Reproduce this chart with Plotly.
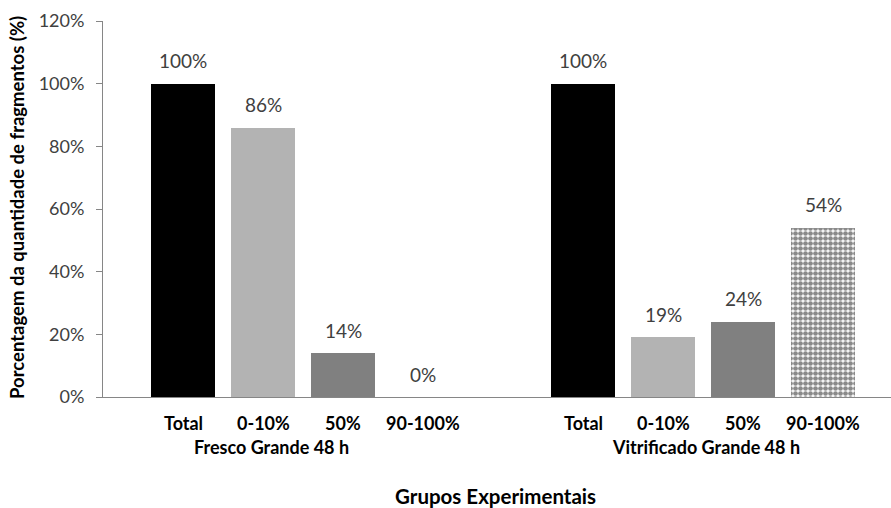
import plotly.graph_objects as go

# Data
groups = ["Fresco Grande 48 h", "Vitrificado Grande 48 h"]
categories = ["Total", "0-10%", "50%", "90-100%"]
values_fresco = [1.00, 0.86, 0.14, 0.00]
values_vitrificado = [1.00, 0.19, 0.24, 0.54]
y_ticks = [0, 0.2, 0.4, 0.6, 0.8, 1.0, 1.2]

series = [values_fresco, values_vitrificado]

# Styling per category
bar_colors = ["#000000", "#b3b3b3", "#808080", "#ffffff"]
FONT = "Lato, Carlito, Calibri, sans-serif"
LABEL_COLOR = "#404040"
AXIS_COLOR = "#868686"
GROUP_STEP = len(categories) + 1  # one empty slot between groups

# plot-area geometry in pixels (used to place the free-standing titles)
FIG_W, FIG_H = 891, 508
M_L, M_R, M_T, M_B = 103, 0, 21, 111
PLOT_W = FIG_W - M_L - M_R
PLOT_H = FIG_H - M_T - M_B

fig = go.Figure()
annotations = []

for gi, (gname, vals) in enumerate(zip(groups, series)):
    xs = [gi * GROUP_STEP + ci for ci in range(len(categories))]
    for ci, (x, v) in enumerate(zip(xs, vals)):
        marker = dict(color=bar_colors[ci], line=dict(width=0))
        if categories[ci] == "90-100%":
            marker = dict(
                color="#ffffff",
                line=dict(width=0),
                pattern=dict(shape=".", fgcolor="#8a8a8a", bgcolor="#ffffff",
                             size=5, solidity=0.7, fillmode="replace"),
            )
        fig.add_trace(go.Bar(x=[x], y=[v], width=0.8, marker=marker,
                             showlegend=False, hoverinfo="skip"))
        # value label above each bar
        annotations.append(dict(
            x=x, y=v, xref="x", yref="y", text=f"{round(v * 100)}%",
            showarrow=False, yanchor="middle", yshift=23,
            font=dict(family=FONT, size=19, color=LABEL_COLOR)))
        # category label under the axis
        annotations.append(dict(
            x=x, y=0, xref="x", yref="y", text=f"<b>{categories[ci]}</b>",
            showarrow=False, yanchor="middle", yshift=-26,
            font=dict(family=FONT, size=18, color="#000000")))
    # group label
    annotations.append(dict(
        x=(xs[0] + xs[-1]) / 2, y=0, xref="x", yref="y",
        text=f"<b>{gname}</b>", showarrow=False, yanchor="middle",
        yshift=-50, xshift=-32 if gi == 0 else 3,
        font=dict(family=FONT, size=18, color="#000000")))

# axis titles
annotations.append(dict(
    x=(495 - M_L) / PLOT_W, y=(FIG_H - M_B - 496) / PLOT_H,
    xref="paper", yref="paper", text="<b>Grupos Experimentais</b>",
    showarrow=False, xanchor="center", yanchor="middle",
    font=dict(family=FONT, size=20.5, color="#000000")))
annotations.append(dict(
    x=(17 - M_L) / PLOT_W, y=(FIG_H - M_B - 208) / PLOT_H,
    xref="paper", yref="paper",
    text="<b>Porcentagem da quantidade de fragmentos (%)</b>", textangle=-90,
    showarrow=False, xanchor="center", yanchor="middle",
    font=dict(family=FONT, size=18.5, color="#000000")))

fig.update_layout(
    width=FIG_W, height=FIG_H,
    margin=dict(l=M_L, r=M_R, t=M_T, b=M_B),
    paper_bgcolor="#ffffff", plot_bgcolor="#ffffff",
    bargap=0, annotations=annotations,
    font=dict(family=FONT),
)
fig.update_xaxes(
    range=[-1, 8.85], showticklabels=False, showgrid=False, zeroline=False,
    showline=True, linecolor=AXIS_COLOR, linewidth=1, ticks="",
)
fig.update_yaxes(
    range=[0, 1.2], tickvals=y_ticks, tickformat=".0%", showgrid=False,
    zeroline=False, showline=True, linecolor=AXIS_COLOR, linewidth=1,
    ticks="outside", ticklen=6, tickcolor=AXIS_COLOR, ticklabelstandoff=8,
    tickfont=dict(family=FONT, size=18, color=LABEL_COLOR),
)

fig.write_html("out.html")
